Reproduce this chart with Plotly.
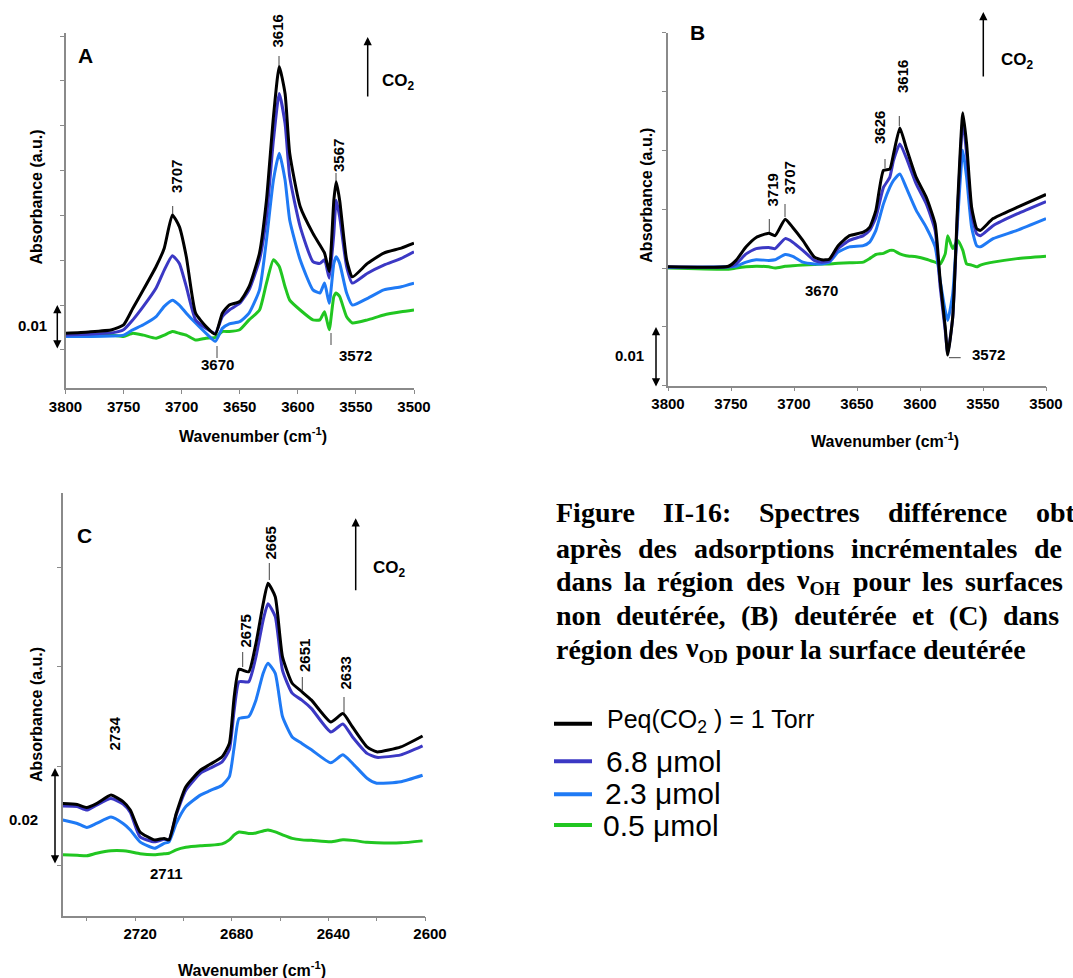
import plotly.graph_objects as go

# ---- data (absorbance in a.u.) ----
series_names = ["Peq(CO<sub>2</sub> ) = 1 Torr", "6.8 μmol", "2.3 μmol", "0.5 μmol"]
series_colors = ["#000000", "#3b38c4", "#1f7af5", "#21c621"]

# panel A : OH region, non deuterated surface
A_wn = [3800, 3780, 3760, 3750, 3742, 3733, 3722, 3715, 3708, 3702, 3696, 3688, 3679,
        3671, 3665, 3659, 3650, 3642, 3633, 3627, 3621, 3616, 3611, 3607, 3598, 3587,
        3581, 3577, 3573, 3569, 3567, 3564, 3558, 3553, 3540, 3526, 3511, 3500]
A_torr = [0.0037, 0.0040, 0.0045, 0.0056, 0.0093, 0.0134, 0.0186, 0.0227, 0.0301, 0.0275,
          0.0208, 0.0082, 0.0052, 0.0035, 0.0082, 0.0100, 0.0108, 0.0141, 0.0216, 0.0334,
          0.0520, 0.0632, 0.0572, 0.0439, 0.0320, 0.0260, 0.0234, 0.0216, 0.0175, 0.0334,
          0.0375, 0.0334, 0.0201, 0.0163, 0.0193, 0.0216, 0.0227, 0.0238]
A_68 = [0.0033, 0.0035, 0.0038, 0.0045, 0.0067, 0.0097, 0.0138, 0.0178, 0.0210, 0.0193,
        0.0141, 0.0067, 0.0048, 0.0037, 0.0074, 0.0089, 0.0104, 0.0134, 0.0201, 0.0297,
        0.0468, 0.0572, 0.0505, 0.0386, 0.0275, 0.0197, 0.0193, 0.0201, 0.0160, 0.0260,
        0.0334, 0.0297, 0.0186, 0.0149, 0.0171, 0.0189, 0.0204, 0.0219]
A_23 = [0.0030, 0.0030, 0.0031, 0.0033, 0.0045, 0.0056, 0.0074, 0.0097, 0.0111, 0.0100,
        0.0082, 0.0060, 0.0037, 0.0019, 0.0048, 0.0058, 0.0063, 0.0082, 0.0134, 0.0245,
        0.0379, 0.0439, 0.0379, 0.0290, 0.0201, 0.0134, 0.0127, 0.0149, 0.0104, 0.0193,
        0.0208, 0.0193, 0.0127, 0.0100, 0.0115, 0.0134, 0.0141, 0.0149]
A_05 = [0.0030, 0.0030, 0.0033, 0.0030, 0.0037, 0.0033, 0.0026, 0.0033, 0.0041, 0.0037,
        0.0033, 0.0022, 0.0026, 0.0028, 0.0041, 0.0041, 0.0045, 0.0067, 0.0089, 0.0149,
        0.0201, 0.0186, 0.0141, 0.0111, 0.0089, 0.0067, 0.0067, 0.0085, 0.0045, 0.0119,
        0.0127, 0.0119, 0.0074, 0.0060, 0.0067, 0.0078, 0.0085, 0.0089]

# panel B : OH region, deuterated surface
B_wn = [3800, 3752, 3746, 3738, 3730, 3720, 3715, 3707, 3701, 3693, 3684, 3678, 3672,
        3665, 3656, 3645, 3640, 3635, 3629, 3624, 3621, 3616, 3611, 3603, 3595, 3588,
        3584, 3580, 3578, 3574, 3570, 3566, 3563, 3559, 3555, 3552, 3542, 3523, 3500]
B_torr = [0.0002, 0.0003, 0.0013, 0.0036, 0.0052, 0.0059, 0.0055, 0.0083, 0.0069, 0.0047,
          0.0019, 0.0014, 0.0015, 0.0038, 0.0055, 0.0061, 0.0069, 0.0098, 0.0166, 0.0168,
          0.0194, 0.0238, 0.0205, 0.0154, 0.0120, 0.0075, -0.0021, -0.0100, -0.0148, -0.0083,
          0.0115, 0.0264, 0.0211, 0.0103, 0.0067, 0.0064, 0.0084, 0.0103, 0.0125]
B_68 = [0.0002, 0.0002, 0.0007, 0.0024, 0.0033, 0.0035, 0.0033, 0.0050, 0.0044, 0.0030,
        0.0013, 0.0010, 0.0012, 0.0033, 0.0047, 0.0055, 0.0064, 0.0086, 0.0137, 0.0154,
        0.0183, 0.0211, 0.0188, 0.0143, 0.0109, 0.0064, -0.0032, -0.0106, -0.0145, -0.0083,
        0.0103, 0.0250, 0.0194, 0.0092, 0.0058, 0.0055, 0.0072, 0.0092, 0.0113]
B_23 = [0.0001, 0.0002, 0.0003, 0.0010, 0.0014, 0.0013, 0.0014, 0.0023, 0.0020, 0.0010,
        0.0007, 0.0007, 0.0010, 0.0027, 0.0036, 0.0038, 0.0044, 0.0064, 0.0109, 0.0137,
        0.0149, 0.0160, 0.0137, 0.0098, 0.0069, 0.0036, -0.0021, -0.0072, -0.0089, -0.0043,
        0.0086, 0.0200, 0.0154, 0.0069, 0.0038, 0.0036, 0.0050, 0.0064, 0.0084]
B_05 = [0.0000, -0.0002, 0.0000, 0.0002, 0.0003, 0.0002, 0.0000, 0.0003, 0.0004, 0.0005,
        0.0006, 0.0007, 0.0007, 0.0008, 0.0009, 0.0010, 0.0016, 0.0023, 0.0025, 0.0030,
        0.0030, 0.0024, 0.0021, 0.0019, 0.0015, 0.0010, 0.0007, 0.0024, 0.0055, 0.0033,
        0.0047, 0.0030, 0.0007, 0.0005, 0.0002, 0.0005, 0.0010, 0.0016, 0.0020]

# panel C : OD region, deuterated surface
C_wn = [2750, 2744, 2740, 2736, 2730, 2725, 2722, 2718, 2712, 2708, 2706, 2703, 2699,
        2693, 2689, 2684, 2681, 2679, 2677, 2673, 2670, 2667, 2665, 2662, 2659, 2655,
        2651, 2647, 2639, 2634, 2630, 2624, 2620, 2610, 2601]
C_torr = [0.0125, 0.0123, 0.0117, 0.0125, 0.0142, 0.0129, 0.0112, 0.0068, 0.0052, 0.0055,
          0.0052, 0.0105, 0.0159, 0.0192, 0.0204, 0.0219, 0.0246, 0.0340, 0.0395, 0.0390,
          0.0447, 0.0527, 0.0568, 0.0541, 0.0420, 0.0367, 0.0350, 0.0333, 0.0289, 0.0306,
          0.0279, 0.0239, 0.0229, 0.0239, 0.0261]
C_68 = [0.0120, 0.0119, 0.0112, 0.0122, 0.0135, 0.0124, 0.0107, 0.0058, 0.0048, 0.0053,
        0.0052, 0.0102, 0.0152, 0.0186, 0.0196, 0.0209, 0.0233, 0.0313, 0.0370, 0.0370,
        0.0420, 0.0494, 0.0527, 0.0501, 0.0393, 0.0347, 0.0333, 0.0316, 0.0269, 0.0285,
        0.0259, 0.0226, 0.0218, 0.0223, 0.0241]
C_23 = [0.0092, 0.0085, 0.0077, 0.0085, 0.0098, 0.0085, 0.0072, 0.0048, 0.0035, 0.0045,
        0.0048, 0.0085, 0.0119, 0.0142, 0.0151, 0.0162, 0.0179, 0.0239, 0.0296, 0.0300,
        0.0333, 0.0387, 0.0407, 0.0387, 0.0300, 0.0259, 0.0246, 0.0233, 0.0207, 0.0223,
        0.0206, 0.0176, 0.0166, 0.0169, 0.0182]
C_05 = [0.0022, 0.0021, 0.0020, 0.0025, 0.0030, 0.0030, 0.0028, 0.0024, 0.0022, 0.0024,
        0.0025, 0.0032, 0.0037, 0.0040, 0.0041, 0.0044, 0.0052, 0.0062, 0.0068, 0.0065,
        0.0066, 0.0070, 0.0072, 0.0068, 0.0062, 0.0055, 0.0052, 0.0051, 0.0048, 0.0052,
        0.0051, 0.0047, 0.0046, 0.0046, 0.0050]

A_ticks = [3800, 3750, 3700, 3650, 3600, 3550, 3500]
C_ticks = [2720, 2680, 2640, 2600]

# caption words, line by line (main text, subscript)
caption_lines = [
    [("Figure", ""), ("II-16:", ""), ("Spectres", ""), ("différence", ""), ("obtenus", "")],
    [("après", ""), ("des", ""), ("adsorptions", ""), ("incrémentales", ""), ("de", "")],
    [("dans", ""), ("la", ""), ("région", ""), ("des", ""), ("ν", "OH"), ("pour", ""),
     ("les", ""), ("surfaces", "")],
    [("non", ""), ("deutérée,", ""), ("(B)", ""), ("deutérée", ""), ("et", ""), ("(C)", ""),
     ("dans", "")],
    [("région", ""), ("des", ""), ("ν", "OD"), ("pour", ""), ("la", ""), ("surface", ""),
     ("deutérée", "")],
]

W, H = 1073, 978
SANS = "Arial, Liberation Sans, sans-serif"
SERIF = "Times New Roman, Liberation Serif, serif"
AXC = "#8a8a8a"


def px(x, y):
    return x / W, 1 - y / H


fig = go.Figure()

panels = [
    (A_wn, [A_torr, A_68, A_23, A_05], "x", "y"),
    (B_wn, [B_torr, B_68, B_23, B_05], "x2", "y2"),
    (C_wn, [C_torr, C_68, C_23, C_05], "x3", "y3"),
]
for wn, ys, xa, ya in panels:
    # lowest dose first so that the 1 Torr spectrum sits on top
    for i in reversed(range(4)):
        fig.add_trace(go.Scatter(
            x=wn, y=ys[i], xaxis=xa, yaxis=ya, mode="lines",
            line=dict(color=series_colors[i], width=3, shape="spline", smoothing=0.5),
            name=series_names[i], showlegend=False, hoverinfo="skip"))

xcommon = dict(showline=True, linecolor=AXC, linewidth=1.5, ticks="outside", ticklen=4,
               tickcolor=AXC, showgrid=False, zeroline=False,
               tickfont=dict(family=SANS, size=15, color="black", weight="bold"))
ycommon = dict(showline=True, linecolor=AXC, linewidth=1.5, ticks="outside", ticklen=4,
               tickcolor=AXC, showgrid=False, zeroline=False, showticklabels=False)

fig.update_layout(
    width=W, height=H, margin=dict(l=0, r=0, t=0, b=0, autoexpand=False),
    paper_bgcolor="white", plot_bgcolor="white", showlegend=False,
    xaxis=dict(domain=[65.5 / W, 414 / W], range=[3800, 3500], anchor="y",
               tickvals=A_ticks, **xcommon),
    yaxis=dict(domain=[1 - 388 / H, 1 - 33 / H], range=[-0.0085, 0.0707], anchor="x",
               tick0=0, dtick=0.01, **ycommon),
    xaxis2=dict(domain=[668 / W, 1046 / W], range=[3800, 3500], anchor="y2",
                tickvals=A_ticks, **xcommon),
    yaxis2=dict(domain=[1 - 385.7 / H, 1 - 32.7 / H], range=[-0.02, 0.04], anchor="x2",
                tick0=0, dtick=0.01, **ycommon),
    xaxis3=dict(domain=[62.7 / W, 425 / W], range=[2750, 2600], anchor="y3",
                tickvals=C_ticks, ticklabelshift=-5,
                minor=dict(tick0=2600, dtick=20, ticks="outside", ticklen=4, tickcolor=AXC),
                **xcommon),
    yaxis3=dict(domain=[1 - 915.7 / H, 1 - 493.3 / H], range=[-0.01005, 0.0749], anchor="x3",
                tickvals=[0, 0.02, 0.04, 0.06], **ycommon),
)

ann = []
shapes = []


def text(x, y, t, size=15, angle=0, bold=True, family=SANS, xanchor="center"):
    xx, yy = px(x, y)
    ann.append(dict(x=xx, y=yy, xref="paper", yref="paper", text=t, showarrow=False,
                    textangle=angle, xanchor=xanchor, yanchor="middle",
                    font=dict(family=family, size=size, color="black",
                              weight="bold" if bold else "normal")))


def tick(x0, y0, x1, y1, color="#444"):
    a, b = px(x0, y0)
    c, d = px(x1, y1)
    shapes.append(dict(type="line", xref="paper", yref="paper", x0=a, y0=b, x1=c, y1=d,
                       line=dict(color=color, width=1)))


def arrow(x, ytail, yhead, both=False):
    xx, yy = px(x, yhead)
    ann.append(dict(x=xx, y=yy, xref="paper", yref="paper", text="", showarrow=True,
                    ax=0, ay=ytail - yhead, arrowhead=2, arrowsize=1.1, arrowwidth=1.5,
                    arrowcolor="black", arrowside="end+start" if both else "end"))


# panel A annotations
text(85.5, 55, "A", size=21)
text(176, 177, "3707", angle=-90)
tick(172.7, 206, 172.7, 214)
text(277.5, 31, "3616", angle=-90)
tick(279, 56, 279, 66)
text(338.5, 155.5, "3567", angle=-90)
tick(336, 173, 336, 181)
text(217.5, 365, "3670")
tick(217, 346, 217, 358)
text(355, 355, "3572")
tick(331, 333, 331, 345)
arrow(367.7, 98, 37)
text(398, 82, "CO<sub>2</sub>", size=17)
text(32, 326, "0.01")
arrow(57.3, 350, 305, both=True)
text(36, 197.5, "Absorbance (a.u.)", size=16, angle=-90)
text(252.5, 435, "Wavenumber (cm<sup>-1</sup>)", size=16)

# panel B annotations
text(697, 32.5, "B", size=21)
text(771.5, 190, "3719", angle=-90)
tick(769.3, 219, 769.3, 232)
text(788.5, 178, "3707", angle=-90)
tick(785, 204, 785, 217)
text(880, 128, "3626", angle=-90)
tick(885, 159, 885, 168)
text(903, 77, "3616", angle=-90)
tick(899.3, 116, 899.3, 126)
text(821.7, 290, "3670")
text(988, 354, "3572")
tick(949, 357.7, 960.7, 357.7)
arrow(983.3, 78, 12)
text(1017, 61, "CO<sub>2</sub>", size=17)
text(629.5, 355.5, "0.01")
arrow(656, 388, 327, both=True)
text(646.7, 195, "Absorbance (a.u.)", size=16, angle=-90)
text(885, 440, "Wavenumber (cm<sup>-1</sup>)", size=16)

# panel C annotations
text(84.5, 535.5, "C", size=21)
text(270, 543.5, "2665", angle=-90)
tick(269.3, 563, 269.3, 580)
text(245, 631.5, "2675", angle=-90)
tick(242.7, 652, 242.7, 667)
text(304.5, 655.5, "2651", angle=-90)
tick(302.3, 677, 302.3, 690)
text(345, 673.5, "2633", angle=-90)
tick(344, 697, 344, 713)
text(114, 733.5, "2734", angle=-90)
text(166, 873.5, "2711")
arrow(355.7, 591.7, 518.3)
text(389, 569, "CO<sub>2</sub>", size=17)
text(23.5, 819.5, "0.02")
arrow(55, 865, 768, both=True)
text(36, 715, "Absorbance (a.u.)", size=16, angle=-90)
text(252, 968.5, "Wavenumber (cm<sup>-1</sup>)", size=16)

# caption: Times bold advance widths (em) used to justify the lines like the page
TW = {"F": .611, "i": .278, "g": .5, "u": .556, "r": .444, "e": .444, "I": .389, "-": .333,
      "1": .5, "6": .5, ":": .333, "S": .556, "p": .556, "c": .444, "t": .333, "s": .389,
      "d": .556, "f": .333, "é": .444, "n": .556, "o": .5, "a": .5, "è": .444, "m": .833,
      "l": .278, ",": .25, "(": .333, ")": .333, "B": .667, "C": .722, "ν": .5, "O": .778,
      "H": .778, "D": .722, "b": .556}
CAP_SIZE = 28
CAP_X0 = 554
cap_y = [512, 548, 581, 615, 649]
cap_last_x = [1034, 1032, 963, 1001, None]  # start of the last word (None = ragged line)


def word_w(main, sub):
    return CAP_SIZE * (sum(TW[c] for c in main) + 0.7 * sum(TW[c] for c in sub))


for words, yline, xlast in zip(caption_lines, cap_y, cap_last_x):
    widths = [word_w(m, s) for m, s in words]
    if xlast is None:
        gap = 0.25 * CAP_SIZE
    else:
        gap = (xlast - CAP_X0 - sum(widths[:-1])) / (len(words) - 1)
    xw = CAP_X0
    for (m, s), w in zip(words, widths):
        t = m + ("<sub>%s</sub>" % s if s else "")
        text(xw, yline, t, size=CAP_SIZE, family=SERIF, xanchor="left")
        xw += w + gap

# legend drawn by hand
legend_rows = [(723.7, 721, 605, 25), (761.3, 761, 604, 30), (794.2, 793, 603, 30),
               (825, 825, 601, 30)]
for i, (yl, yt, xt, fs) in enumerate(legend_rows):
    a, b = px(554, yl)
    c, d = px(592, yl)
    shapes.append(dict(type="line", xref="paper", yref="paper", x0=a, y0=b, x1=c, y1=d,
                       line=dict(color=series_colors[i], width=4)))
    text(xt, yt, series_names[i], size=fs, bold=False, xanchor="left")

fig.update_layout(annotations=ann, shapes=shapes)
fig.write_html("out.html", config={"displayModeBar": False},
               post_script="document.body.style.margin='0px';")
